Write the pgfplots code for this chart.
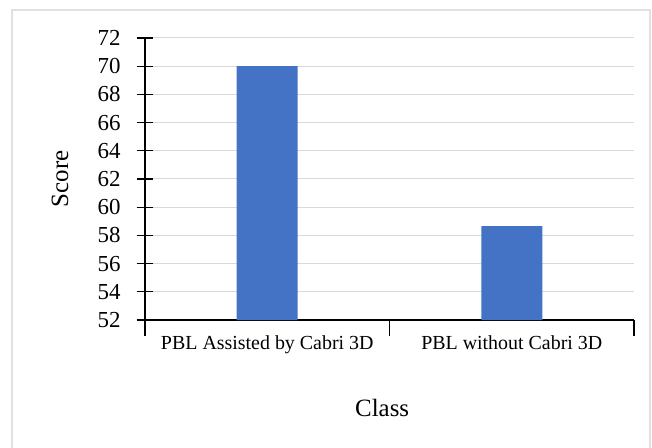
\documentclass[border=0pt]{standalone}
\usepackage{pgfplots}
\pgfplotsset{compat=1.18}
\usepackage{fontspec}
\setmainfont{Liberation Serif}
\definecolor{barblue}{RGB}{68,114,196}
\definecolor{gridgray}{RGB}{217,217,217}
\definecolor{framegray}{RGB}{225,225,225}

\begin{document}
\begin{tikzpicture}
\useasboundingbox (-145bp,-128bp) rectangle (507bp,320bp);
\fill[white] (-145bp,-128bp) rectangle (507bp,320bp);
\draw[framegray, line width=1.5bp] (-133bp,-160bp) rectangle (505bp,310bp);
\begin{axis}[
    at={(0,0)}, anchor=south west,
    scale only axis,
    width=489bp, height=282bp,
    xmin=-0.5, xmax=1.5,
    ymin=52, ymax=72,
    ytick={52,54,...,72},
    xtick={-0.5,0.5,1.5},
    xticklabels={},
    extra x ticks={0,1},
    extra x tick labels={PBL Assisted by Cabri 3D, PBL without Cabri 3D},
    extra x tick style={major tick length=0pt},
    axis x line*=bottom,
    axis y line*=left,
    axis line style={black, line width=1.2bp, -},
    tick style={black, line width=1.2bp},
    tick align=center,
    major tick length=16bp,
    ymajorgrids,
    grid style={gridgray, line width=1bp},
    ybar, bar width=61bp,
    bar shift=0pt,
    /pgf/number format/assume math mode=true,
    yticklabel style={font=\fontsize{23}{25}\selectfont, xshift=-13bp},
    xticklabel style={font=\fontsize{20}{22}\selectfont, yshift=-12bp},
    xlabel={Class},
    ylabel={Score},
    xlabel style={font=\fontsize{25}{27}\selectfont, at={(axis description cs:0.485,-0.312)}, anchor=center},
    ylabel style={font=\fontsize{25}{27}\selectfont, at={(axis description cs:-0.174,0.5)}, anchor=center},
]
\addplot[fill=barblue, draw=none] coordinates {(0,70) (1,58.65)};
\end{axis}
\end{tikzpicture}
\end{document}
